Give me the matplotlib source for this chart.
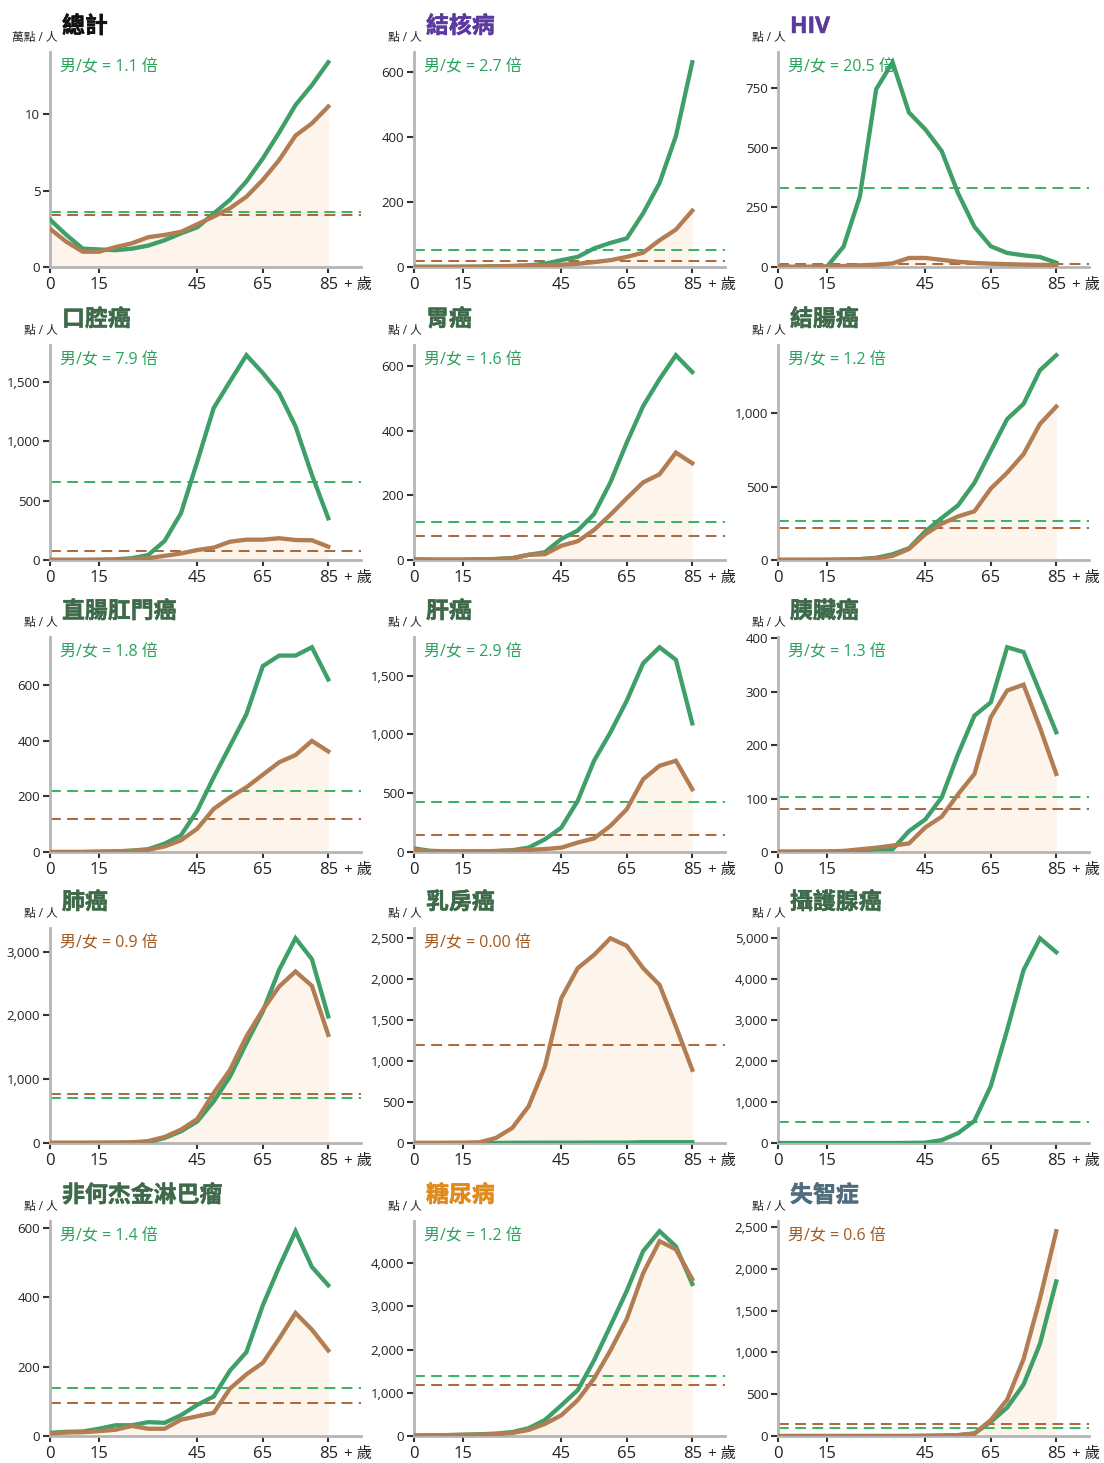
import matplotlib
matplotlib.use("Agg")
import matplotlib.pyplot as plt
import matplotlib.patheffects as pe
from matplotlib.ticker import FuncFormatter, MultipleLocator

plt.rcParams['font.family'] = ['Open Sans', 'Noto Sans CJK TC', 'DejaVu Sans']

ages = [0, 5, 10, 15, 20, 25, 30, 35, 40, 45, 50, 55, 60, 65, 70, 75, 80, 85]

titles = ['總計', '結核病', 'HIV', '口腔癌', '胃癌', '結腸癌', '直腸肛門癌', '肝癌',
          '胰臟癌', '肺癌', '乳房癌', '攝護腺癌', '非何杰金淋巴瘤', '糖尿病', '失智症']
units = ['萬點 / 人'] + ['點 / 人'] * 14
title_colors = ['#111111', '#5b3a9e', '#5b3a9e'] + ['#3e6a4a'] * 10 + ['#e08a1c', '#4f6d7c']

total_m = [3.1, 2.1, 1.2, 1.15, 1.1, 1.2, 1.4, 1.75, 2.2, 2.6, 3.5, 4.4, 5.6, 7.1, 8.8, 10.6, 11.9, 13.4]
total_f = [2.5, 1.65, 1.0, 1.0, 1.3, 1.55, 1.95, 2.1, 2.3, 2.8, 3.3, 3.85, 4.6, 5.7, 7.0, 8.6, 9.4, 10.5]
tb_m = [0.5, 0.3, 0.3, 0.5, 1, 2, 3, 5, 10, 21, 31, 57, 74, 88, 165, 258, 402, 629]
tb_f = [0.5, 0.5, 0.5, 1, 1, 2, 3, 4, 5, 7, 10, 15, 21, 31, 44, 82, 115, 173]
hiv_m = [0, 0, 0, 2, 85, 296, 747, 860, 649, 578, 487, 310, 169, 87, 59, 49, 42, 18]
hiv_f = [2, 1, 1, 2, 4, 7, 10, 15, 38, 38, 30, 22, 17, 14, 12, 10, 9, 8]
oral_m = [1, 1, 1, 2, 5, 15, 42, 160, 393, 829, 1278, 1503, 1722, 1573, 1404, 1124, 716, 351]
oral_f = [1, 1, 1, 2, 2, 8, 15, 35, 55, 84, 104, 154, 171, 171, 183, 168, 166, 112]
stomach_m = [2, 1, 1, 1, 2, 3, 6, 16, 24, 65, 91, 142, 240, 363, 476, 559, 633, 581]
stomach_f = [2, 1, 1, 1, 2, 3, 5, 16, 18, 44, 58, 93, 140, 191, 240, 265, 332, 299]
colon_m = [1, 1, 1, 1, 3, 6, 15, 39, 80, 195, 286, 373, 526, 744, 961, 1064, 1293, 1396]
colon_f = [1, 1, 1, 2, 3, 5, 12, 28, 75, 176, 247, 297, 332, 487, 595, 721, 927, 1046]
rectal_m = [0, 0, 0, 1, 2, 5, 10, 30, 60, 149, 269, 382, 496, 669, 707, 707, 737, 621]
rectal_f = [0, 0, 0, 1, 2, 4, 8, 20, 42, 84, 155, 197, 233, 278, 323, 349, 400, 362]
liver_m = [30, 10, 5, 5, 5, 8, 15, 37, 108, 207, 435, 776, 1017, 1287, 1605, 1741, 1634, 1094]
liver_f = [20, 5, 3, 3, 5, 8, 12, 18, 25, 37, 80, 116, 222, 364, 619, 733, 776, 534]
pancreas_m = [0.5, 0.5, 0.5, 0.5, 1, 3, 5, 5, 39, 61, 102, 183, 255, 280, 383, 374, 299, 224]
pancreas_f = [0.5, 0.5, 1, 1, 2, 5, 8, 12, 16, 46, 66, 108, 146, 252, 302, 313, 233, 146]
lung_m = [2, 2, 2, 3, 5, 8, 15, 78, 183, 339, 652, 1043, 1565, 2060, 2713, 3208, 2880, 1982]
lung_f = [3, 3, 3, 4, 5, 10, 30, 94, 209, 376, 782, 1147, 1669, 2087, 2452, 2687, 2462, 1695]
breast_m = [0, 0, 0, 0, 0, 0, 3, 3, 4, 4, 4, 5, 5, 5, 10, 10, 10, 10]
breast_f = [1, 1, 2, 3, 8, 61, 183, 447, 935, 1768, 2134, 2297, 2500, 2407, 2134, 1931, 1423, 894]
prostate_m = [0, 0, 0, 0, 0, 0, 0, 0, 2, 8, 70, 240, 540, 1390, 2760, 4220, 5000, 4660]
nhl_m = [9, 12, 13, 21, 31, 31, 40, 38, 60, 90, 114, 189, 242, 377, 488, 591, 488, 435]
nhl_f = [7, 10, 11, 14, 18, 29, 21, 21, 47, 57, 67, 137, 178, 211, 281, 355, 307, 247]
diabetes_m = [10, 15, 20, 30, 40, 55, 90, 180, 370, 710, 1060, 1750, 2550, 3360, 4280, 4740, 4390, 3520]
diabetes_f = [10, 15, 20, 25, 30, 45, 70, 140, 280, 480, 830, 1330, 1980, 2710, 3770, 4510, 4320, 3630]
dementia_m = [0, 0, 0, 0, 0, 0, 0, 0, 0, 2, 5, 10, 30, 170, 340, 615, 1100, 1850]
dementia_f = [0, 0, 0, 0, 0, 0, 0, 0, 0, 2, 5, 10, 30, 190, 435, 920, 1640, 2450]

male = [total_m, tb_m, hiv_m, oral_m, stomach_m, colon_m, rectal_m, liver_m,
        pancreas_m, lung_m, breast_m, prostate_m, nhl_m, diabetes_m, dementia_m]
female = [total_f, tb_f, hiv_f, oral_f, stomach_f, colon_f, rectal_f, liver_f,
          pancreas_f, lung_f, breast_f, None, nhl_f, diabetes_f, dementia_f]
mean_m = [3.63, 52, 331, 652, 119, 263, 219, 426, 102, 704, None, 512, 139, 1380, 97]
mean_f = [3.41, 18, 14, 76, 74, 217, 118, 142, 81, 767, 1191, None, 96, 1170, 145]
ratios = ['1.1', '2.7', '20.5', '7.9', '1.6', '1.2', '1.8', '2.9', '1.3', '0.9', '0.00', None, '1.4', '1.2', '0.6']
ytick_step = [5, 200, 250, 500, 200, 500, 200, 500, 100, 1000, 500, 1000, 200, 1000, 500]
xticks = [0, 15, 45, 65, 85]

GREEN = '#3f9f68'
BROWN = '#b27d52'
GREEN_DASH = '#28ad58'
BROWN_DASH = '#a65a28'
GREEN_TXT = '#2aa25c'
BROWN_TXT = '#a2591f'
FILL = '#fdf5ec'
SPINE = '#b5b5b5'

W, H = 1104, 1463
fig = plt.figure(figsize=(W / 100, H / 100), dpi=100)

col_left = [50, 414, 778]
row_zero = [267, 560, 852, 1143, 1436]
ax_w, ax_h = 311, 215

fmt = FuncFormatter(lambda v, p: f'{v:,.0f}')

for i, title in enumerate(titles):
    r, c = divmod(i, 3)
    left = col_left[c]
    bottom = row_zero[r]
    ax = fig.add_axes([left / W, 1 - bottom / H, ax_w / W, ax_h / H])

    m = male[i]
    f = female[i]
    ymax = max(m + (f if f else []))
    ax.set_xlim(0, 95)
    ax.set_ylim(0, ymax * 1.05)

    if f is not None:
        ax.fill_between(ages, 0, f, color=FILL, lw=0, zorder=1)
    if mean_m[i] is not None:
        ax.axhline(mean_m[i], color=GREEN_DASH, lw=1.3, dashes=(6, 3.5), zorder=2)
    if mean_f[i] is not None:
        ax.axhline(mean_f[i], color=BROWN_DASH, lw=1.3, dashes=(6, 3.5), zorder=2)
    ax.plot(ages, m, color=GREEN, lw=3.1, solid_joinstyle='miter', zorder=3)
    if f is not None:
        ax.plot(ages, f, color=BROWN, lw=3.1, solid_joinstyle='miter', zorder=4)

    for s in ['top', 'right']:
        ax.spines[s].set_visible(False)
    for s in ['left', 'bottom']:
        ax.spines[s].set_color(SPINE)
        ax.spines[s].set_linewidth(2)
    ax.set_facecolor('none')

    ax.set_xticks(xticks)
    ax.set_xticklabels([str(x) for x in xticks])
    ax.yaxis.set_major_locator(MultipleLocator(ytick_step[i]))
    ax.yaxis.set_major_formatter(fmt)
    ax.tick_params(axis='x', length=4, width=1.5, color='#333333', labelsize=12,
                   labelcolor='#222222', pad=3.5)
    ax.tick_params(axis='y', length=5, width=1.5, color='#333333', labelsize=9.5,
                   labelcolor='#222222', pad=2)
    ax.annotate('+ 歲', xy=(85, 0), xycoords=('data', 'axes fraction'),
                xytext=(11.5, -8.2), textcoords='offset points',
                ha='left', va='top', fontsize=11, color='#222222')

    if ratios[i] is not None:
        col = GREEN_TXT if float(ratios[i]) >= 1 else BROWN_TXT
        ax.text(10 / ax_w, 1 - 15 / ax_h, f'男/女 = {ratios[i]} 倍', transform=ax.transAxes,
                ha='left', va='center', fontsize=11.5, color=col)

    top = bottom - ax_h
    fig.text((left + 8) / W, 1 - (top - 11) / H, units[i], ha='right', va='baseline',
             fontsize=8.5, color='#222222')
    tc = title_colors[i]
    fig.text((left + 12) / W, 1 - (top - 25) / H, title, ha='left', va='center',
             fontsize=16.5, fontweight='bold', color=tc,
             path_effects=[pe.withStroke(linewidth=0.35, foreground=tc)])

fig.savefig('out.png', dpi=100)
